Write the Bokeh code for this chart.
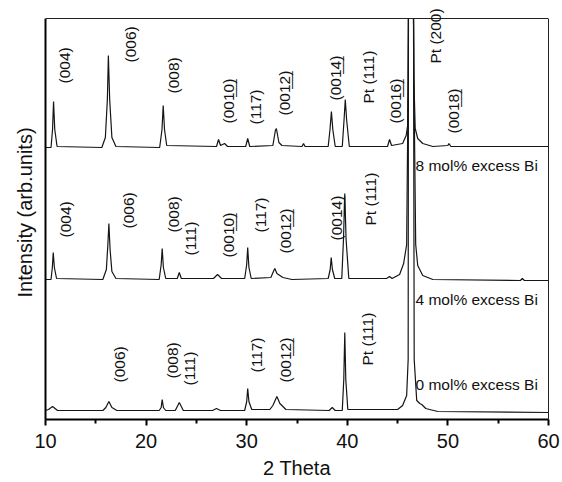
from bokeh.plotting import figure
from bokeh.models import Range1d, FixedTicker, Label, LinearAxis, Span, BoxAnnotation
from bokeh.embed import file_html
from bokeh.resources import INLINE
import math

FONT = "Liberation Sans"

# ---- data (2 theta, intensity in arbitrary units, offset per sample) ----
# the Pt (200) reflection near 46.3 runs off the top of the chart; it is read
# where it leaves (46.08) and re-enters (46.58) the box.
x_8 = [10.0, 10.55, 10.7, 10.8, 10.92, 11.15, 15.6, 15.95, 16.15, 16.25, 16.38, 16.6, 17.0,
       21.35, 21.58, 21.7, 21.83, 22.05, 27.0, 27.2, 27.4, 27.8, 28.1, 29.9, 30.1, 30.3,
       32.6, 32.85, 32.95, 33.2, 33.5, 35.5, 35.65, 35.8, 38.1, 38.28, 38.42, 38.56, 38.8,
       39.5, 39.68, 39.8, 39.93, 40.2, 44.0, 44.2, 44.4, 45.5, 45.85, 46.0, 46.05, 46.08,
       46.58, 46.62, 46.75, 47.0, 47.5, 48.5, 50.0, 50.1, 50.3, 60.0]
y_8 = [272, 272, 290, 318, 290, 273, 272, 282, 320, 364, 320, 282, 273,
       272, 290, 314, 290, 274, 273, 280, 274, 276, 273, 273, 281, 273,
       274, 289, 291, 277, 274, 273, 276, 273, 273, 290, 308, 290, 273,
       273, 300, 320, 300, 273, 273, 280, 274, 276, 284, 294, 340, 408,
       408, 340, 291, 281, 276, 273, 274, 276, 273, 273]

x_4 = [10.0, 10.55, 10.68, 10.77, 10.88, 11.1, 15.7, 16.05, 16.2, 16.3, 16.42, 16.6, 17.0,
       21.3, 21.5, 21.6, 21.72, 21.95, 23.1, 23.3, 23.5, 26.7, 27.1, 27.5, 29.8, 30.0, 30.1,
       30.22, 30.45, 32.4, 32.7, 32.8, 33.0, 33.6, 34.5, 38.1, 38.3, 38.4, 38.52, 38.75,
       39.45, 39.62, 39.75, 39.88, 40.15, 43.9, 44.2, 44.45, 45.2, 45.6, 45.9, 46.05, 46.08,
       46.58, 46.62, 46.8, 47.0, 47.5, 48.5, 57.2, 57.4, 57.6, 60.0]
y_4 = [140, 140, 152, 167, 152, 141, 140, 150, 175, 196, 170, 148, 141,
       140, 155, 171, 152, 141, 141, 147, 141, 141, 145, 141, 141, 155, 172,
       152, 141, 142, 149, 151, 146, 142, 140, 141, 150, 162, 150, 141,
       141, 180, 226, 180, 141, 141, 143, 141, 145, 156, 175, 340, 408,
       408, 340, 175, 154, 144, 140, 139, 141, 139, 139]

x_0 = [10.0, 10.3, 10.7, 11.2, 15.7, 16.0, 16.3, 16.6, 17.1, 21.3, 21.5, 21.6, 21.72, 21.95,
       22.9, 23.3, 23.7, 26.6, 27.0, 27.4, 29.8, 30.0, 30.1, 30.22, 30.5, 32.3, 32.6, 33.0,
       33.3, 33.9, 38.2, 38.5, 38.8, 39.5, 39.65, 39.75, 39.85, 40.05, 45.0, 45.5, 45.9,
       46.05, 46.08, 46.58, 46.65, 46.9, 47.2, 47.4, 47.8, 49.0, 60.0]
y_0 = [9, 10, 13, 9, 9, 12, 18, 12, 9, 9, 12, 20, 12, 9,
       9, 17, 9, 9, 11, 9, 9, 18, 31, 18, 10, 10, 14, 23,
       16, 10, 9, 12, 9, 9, 40, 87, 40, 10, 10, 14, 24,
       60, 408, 408, 60, 19, 16, 15, 11, 8, 7]

# ---- labels ----
peak_labels_8 = ["(004)", "(006)", "(008)", "(001\u03320\u0332)", "(117)", "(001\u03322\u0332)",
                 "(001\u03324\u0332)", "Pt (111)", "(001\u03326\u0332)", "Pt (200)", "(001\u03328\u0332)"]
peak_x_8 = [11.9, 18.45, 22.7, 28.2, 30.9, 33.75, 38.8, 42.1, 44.8, 48.8, 50.55]
peak_y_8 = [336, 357, 326, 296, 295, 304, 319, 316, 296, 356, 286]

peak_labels_4 = ["(004)", "(006)", "(008)", "(111)", "(001\u03320\u0332)", "(117)",
                 "(001\u03322\u0332)", "(001\u03324\u0332)", "Pt (111)"]
peak_x_4 = [12.0, 18.25, 22.7, 24.4, 28.2, 31.4, 33.85, 38.9, 42.3]
peak_y_4 = [182, 191, 187, 164, 162, 187, 166, 179, 194]

peak_labels_0 = ["(006)", "(008)", "(111)", "(117)", "(001\u03322\u0332)", "Pt (111)"]
peak_x_0 = [17.35, 22.6, 24.3, 31.0, 33.85, 42.0]
peak_y_0 = [37, 41, 34, 47, 37, 54]

sample_labels = ["8 mol% excess Bi", "4 mol% excess Bi", "0 mol% excess Bi"]
sample_x = [46.78, 46.78, 46.78]
sample_y = [254, 120, 35]

Y_TOP = 401      # top of the drawn box
Y_MAX = 414      # a little head room above the box for the "Pt (200)" label

p = figure(width=562, height=482, output_backend="svg", toolbar_location=None,
           x_range=Range1d(10, 60), y_range=Range1d(0, Y_MAX),
           min_border_left=45, min_border_right=14, min_border_top=5, min_border_bottom=63)
p.background_fill_color = "white"
p.border_fill_color = "white"
p.grid.visible = False
p.outline_line_color = None

for xs, ys in [(x_8, y_8), (x_4, y_4), (x_0, y_0)]:
    p.line(xs, ys, line_color="#151515", line_width=1.2)

# mask above the box top so the traces look clipped at the frame
p.add_layout(BoxAnnotation(bottom=Y_TOP, top=Y_MAX + 60, left=9, right=61,
                           fill_color="white", fill_alpha=1.0, line_color=None))
p.add_layout(Span(location=Y_TOP, dimension="width", line_color="#222222", line_width=1))

for texts, xs, ys in [(peak_labels_8, peak_x_8, peak_y_8),
                      (peak_labels_4, peak_x_4, peak_y_4),
                      (peak_labels_0, peak_x_0, peak_y_0)]:
    for t, xx, yy in zip(texts, xs, ys):
        p.add_layout(Label(x=xx, y=yy, text=t, angle=math.pi / 2, text_align="left",
                           text_baseline="middle", text_font=FONT, text_font_size="15.5px",
                           text_color="#111111"))

for t, xx, yy in zip(sample_labels, sample_x, sample_y):
    p.add_layout(Label(x=xx, y=yy, text=t, text_align="left", text_baseline="middle",
                       text_font=FONT, text_font_size="15.5px", text_color="#111111"))

xa = p.xaxis[0]
xa.ticker = FixedTicker(ticks=[10, 20, 30, 40, 50, 60], minor_ticks=[15, 25, 35, 45, 55])
xa.axis_line_width = 2
xa.major_tick_line_width = 2
xa.minor_tick_line_width = 2
xa.major_tick_out = 6
xa.major_tick_in = 0
xa.minor_tick_out = 4
xa.minor_tick_in = 0
xa.major_label_text_font = FONT
xa.major_label_text_font_size = "20px"
xa.major_label_text_color = "#111111"
xa.major_label_standoff = 8
xa.axis_label = "2 Theta"
xa.axis_label_text_font = FONT
xa.axis_label_text_font_size = "20px"
xa.axis_label_text_font_style = "normal"
xa.axis_label_text_color = "#111111"
xa.axis_label_standoff = 6

ya = p.yaxis[0]
ya.ticker = FixedTicker(ticks=[])
ya.bounds = (0, Y_TOP)
ya.axis_line_width = 2
ya.major_tick_line_color = None
ya.minor_tick_line_color = None
ya.major_label_text_font_size = "0px"
ya.axis_label = "Intensity (arb.units)"
ya.axis_label_text_font = FONT
ya.axis_label_text_font_size = "20px"
ya.axis_label_text_font_style = "normal"
ya.axis_label_text_color = "#111111"
ya.axis_label_standoff = 10

ra = LinearAxis(ticker=FixedTicker(ticks=[]), bounds=(0, Y_TOP), axis_line_width=1,
                axis_line_color="#222222", major_tick_line_color=None,
                minor_tick_line_color=None, major_label_text_font_size="0px")
p.add_layout(ra, "right")

open("out.html", "w").write(file_html(p, INLINE))
